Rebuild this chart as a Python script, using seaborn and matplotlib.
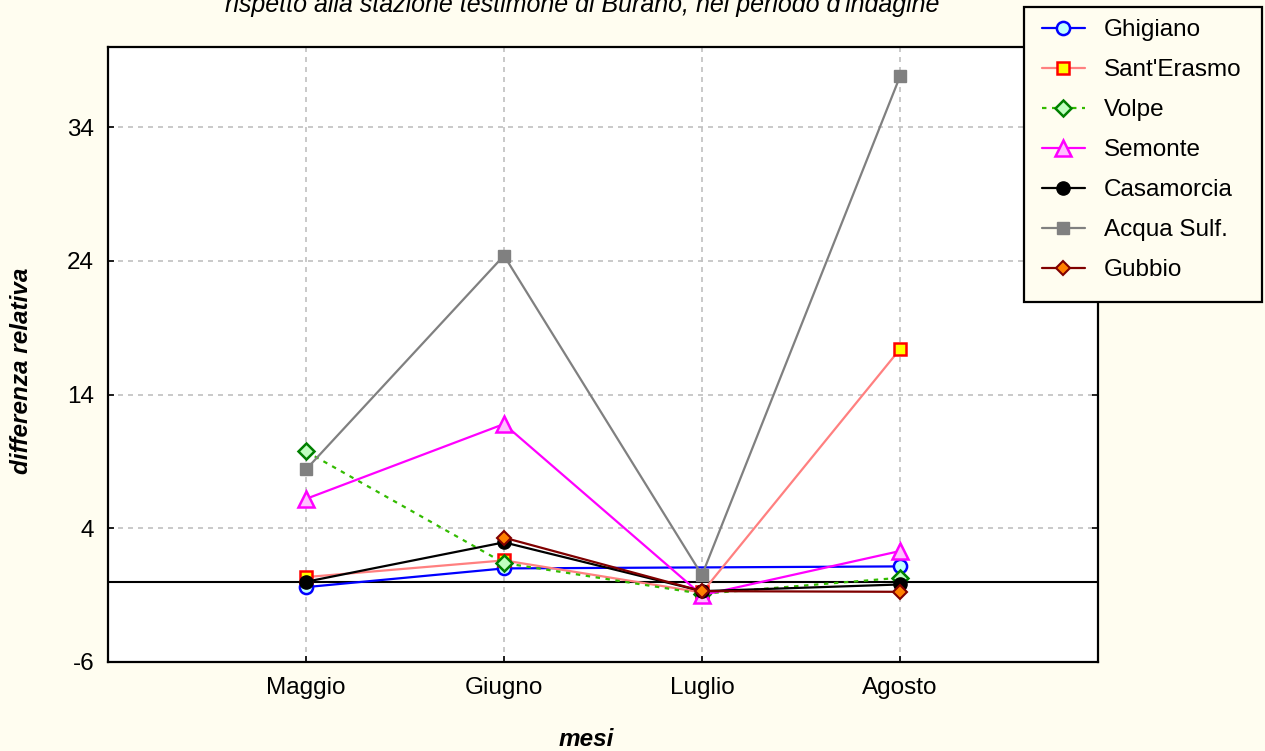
import numpy as np
import pandas as pd
import matplotlib
matplotlib.use("Agg")
import matplotlib.pyplot as plt
from matplotlib.patches import Rectangle
import seaborn as sns

months = ["Maggio", "Giugno", "Luglio", "Agosto"]
ghigiano = [-0.4, 1.0, np.nan, 1.15]
sant_erasmo = [0.35, 1.6, -0.8, 17.4]
volpe = [9.75, 1.4, -0.9, 0.3]
semonte = [6.2, 11.8, -1.0, 2.3]
casamorcia = [0.0, 2.95, -0.7, -0.2]
acqua_sulf = [8.4, 24.4, 0.5, 37.8]
gubbio = [np.nan, 3.3, -0.7, -0.75]

series = {
    "Ghigiano": ghigiano,
    "Sant'Erasmo": sant_erasmo,
    "Volpe": volpe,
    "Semonte": semonte,
    "Casamorcia": casamorcia,
    "Acqua Sulf.": acqua_sulf,
    "Gubbio": gubbio,
}

styles = {
    "Ghigiano": dict(color="#0000FF", ls="-", marker="o", ms=9.5, mfc="#C0FFFF", mec="#0000FF", mew=1.8),
    "Sant'Erasmo": dict(color="#FF8080", ls="-", marker="s", ms=9, mfc="#FFFF00", mec="#FF0000", mew=1.8),
    "Volpe": dict(color="#33BB00", ls=(0, (2, 2.5)), marker="D", ms=8.5, mfc="#C0FFC0", mec="#008000", mew=1.8),
    "Semonte": dict(color="#FF00FF", ls="-", marker="^", ms=11, mfc="#FFC0FF", mec="#FF00FF", mew=1.8),
    "Casamorcia": dict(color="#000000", ls="-", marker="o", ms=9.5, mfc="#000000", mec="#000000", mew=1),
    "Acqua Sulf.": dict(color="#808080", ls="-", marker="s", ms=8, mfc="#808080", mec="#808080", mew=1),
    "Gubbio": dict(color="#800000", ls="-", marker="D", ms=7.5, mfc="#FF8000", mec="#800000", mew=1.5),
}

rows = []
for name, vals in series.items():
    for i, (m, v) in enumerate(zip(months, vals)):
        rows.append({"serie": name, "mese": m, "pos": i + 1, "val": v})
df = pd.DataFrame(rows)

sns.set_theme(style="white")
plt.rcParams["font.family"] = ["Liberation Sans", "DejaVu Sans"]
plt.rcParams.update({"text.color": "black", "axes.labelcolor": "black",
                     "xtick.color": "black", "ytick.color": "black"})

W, H = 1265, 751
bg = "#FFFDF0"
FS = 17.5
fig = plt.figure(figsize=(W / 100, H / 100), dpi=100, facecolor=bg)
ax = fig.add_axes([108 / W, 1 - 662 / H, 990 / W, 615 / H])
ax.set_facecolor("white")

ax.set_xlim(0, 5)
ax.set_ylim(-6, 40)
ax.set_xticks([1, 2, 3, 4])
ax.set_xticklabels(months, fontsize=FS)
ax.set_yticks([-6, 4, 14, 24, 34])
ax.set_yticklabels(["-6", "4", "14", "24", "34"], fontsize=FS)
ax.grid(True, color="#C0C0C0", ls=(0, (3, 3)), lw=1.2)
ax.set_axisbelow(True)
ax.axhline(0, color="black", lw=1.5, zorder=2)

handles = []
for name in series:
    sub = df[(df["serie"] == name)].dropna(subset=["val"])
    st = styles[name]
    sns.lineplot(data=sub, x="pos", y="val", ax=ax, color=st["color"], linestyle=st["ls"],
                 lw=1.6, marker=st["marker"], markersize=st["ms"], markerfacecolor=st["mfc"],
                 markeredgecolor=st["mec"], markeredgewidth=st["mew"], label=name, legend=False,
                 estimator=None, sort=False, zorder=3)
    handles.append(ax.lines[-1])

for s in ax.spines.values():
    s.set_visible(True)
    s.set_color("black")
    s.set_linewidth(1.6)
ax.tick_params(axis="both", direction="in", length=4, width=1.2, colors="black",
               left=True, bottom=True, right=True, labelright=False)
ax.tick_params(axis="x", pad=11)
ax.tick_params(axis="y", pad=10)

ax.set_xlabel("mesi", fontsize=FS, fontweight="bold", style="italic")
ax.set_ylabel("differenza relativa", fontsize=FS, fontweight="bold", style="italic")
ax.xaxis.set_label_coords((586 - 108) / 990, (662 - 728) / 615)
ax.yaxis.set_label_coords((33 - 108) / 990, (662 - 371) / 615)

fig.text(0.460, 1 - 12 / H, "rispetto alla stazione testimone di Burano, nel periodo d'indagine",
         ha="center", va="baseline", fontsize=18, style="italic")

# legend box
box = Rectangle((1024 / W, 1 - 302 / H), 238 / W, 295 / H, transform=fig.transFigure,
                facecolor=bg, edgecolor="black", lw=1.6, zorder=5)
fig.patches.append(box)
leg = fig.legend(handles=handles, labels=list(series.keys()), loc="upper left",
                 bbox_to_anchor=(1042 / W, 1 - 19 / H), fontsize=FS, frameon=False,
                 labelspacing=0.74, handlelength=1.75, handletextpad=0.8,
                 borderpad=0, borderaxespad=0, numpoints=1)
leg.set_zorder(6)

fig.savefig("out.png", dpi=100, facecolor=bg)
